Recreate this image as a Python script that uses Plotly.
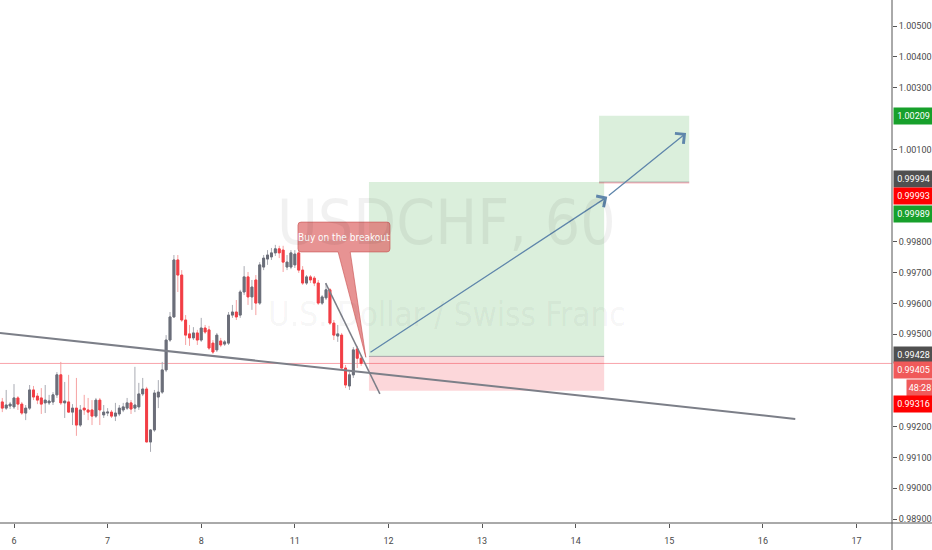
import plotly.graph_objects as go

# ---------------- data ----------------
# hourly bars, index = hours since day "6" 00:00 (weekend hours skipped)
bar_start = -3
opens = [0.99280, 0.99260, 0.99267, 0.99264, 0.99293, 0.99273, 0.99244, 0.99260, 0.99319, 0.99299,
         0.99293, 0.99277, 0.99277, 0.99280, 0.99303, 0.99368, 0.99277, 0.99280, 0.99247, 0.99260,
         0.99205, 0.99260, 0.99254, 0.99254, 0.99234, 0.99286, 0.99238, 0.99244, 0.99247, 0.99234,
         0.99241, 0.99254, 0.99260, 0.99277, 0.99260, 0.99264, 0.99306, 0.99322, 0.99150, 0.99189,
         0.99296, 0.99312, 0.99384, 0.99481, 0.99556, 0.99741, 0.99692, 0.99546, 0.99501, 0.99488,
         0.99504, 0.99481, 0.99520, 0.99514, 0.99471, 0.99449, 0.99478, 0.99468, 0.99471, 0.99562,
         0.99572, 0.99562, 0.99637, 0.99686, 0.99621, 0.99676, 0.99601, 0.99718, 0.99744, 0.99751,
         0.99764, 0.99777, 0.99773, 0.99718, 0.99718, 0.99725, 0.99764, 0.99708, 0.99666, 0.99686,
         0.99682, 0.99666, 0.99601, 0.99618, 0.99644, 0.99536, 0.99494, 0.99497, 0.99390, 0.99332,
         0.99368, 0.99452, 0.99422]
highs = [0.99293, 0.99319, 0.99280, 0.99338, 0.99299, 0.99280, 0.99270, 0.99335, 0.99332, 0.99309,
         0.99325, 0.99335, 0.99303, 0.99312, 0.99377, 0.99410, 0.99345, 0.99368, 0.99273, 0.99358,
         0.99270, 0.99303, 0.99293, 0.99286, 0.99293, 0.99293, 0.99270, 0.99260, 0.99254, 0.99277,
         0.99270, 0.99277, 0.99293, 0.99286, 0.99394, 0.99342, 0.99358, 0.99329, 0.99192, 0.99319,
         0.99351, 0.99410, 0.99497, 0.99572, 0.99757, 0.99757, 0.99708, 0.99562, 0.99530, 0.99523,
         0.99514, 0.99553, 0.99530, 0.99527, 0.99481, 0.99504, 0.99488, 0.99481, 0.99572, 0.99595,
         0.99611, 0.99644, 0.99721, 0.99702, 0.99676, 0.99692, 0.99734, 0.99757, 0.99773, 0.99780,
         0.99790, 0.99787, 0.99787, 0.99757, 0.99773, 0.99773, 0.99773, 0.99721, 0.99692, 0.99692,
         0.99689, 0.99676, 0.99627, 0.99666, 0.99650, 0.99546, 0.99530, 0.99504, 0.99400, 0.99377,
         0.99458, 0.99462, 0.99432]
lows = [0.99247, 0.99254, 0.99257, 0.99257, 0.99254, 0.99238, 0.99221, 0.99254, 0.99286, 0.99273,
        0.99241, 0.99244, 0.99270, 0.99270, 0.99293, 0.99270, 0.99228, 0.99244, 0.99205, 0.99170,
        0.99199, 0.99238, 0.99221, 0.99205, 0.99228, 0.99205, 0.99228, 0.99234, 0.99228, 0.99218,
        0.99234, 0.99247, 0.99254, 0.99241, 0.99247, 0.99254, 0.99299, 0.99150, 0.99118, 0.99183,
        0.99260, 0.99306, 0.99377, 0.99475, 0.99553, 0.99637, 0.99540, 0.99465, 0.99462, 0.99481,
        0.99465, 0.99475, 0.99501, 0.99449, 0.99436, 0.99442, 0.99458, 0.99462, 0.99465, 0.99553,
        0.99546, 0.99553, 0.99627, 0.99595, 0.99579, 0.99562, 0.99595, 0.99708, 0.99725, 0.99741,
        0.99754, 0.99747, 0.99702, 0.99708, 0.99711, 0.99715, 0.99699, 0.99660, 0.99660, 0.99666,
        0.99656, 0.99595, 0.99595, 0.99611, 0.99530, 0.99481, 0.99475, 0.99384, 0.99325, 0.99319,
        0.99358, 0.99390, 0.99397]
closes = [0.99260, 0.99270, 0.99273, 0.99293, 0.99273, 0.99244, 0.99260, 0.99319, 0.99296, 0.99286,
          0.99273, 0.99286, 0.99283, 0.99303, 0.99368, 0.99277, 0.99283, 0.99247, 0.99260, 0.99205,
          0.99254, 0.99254, 0.99247, 0.99234, 0.99286, 0.99254, 0.99247, 0.99247, 0.99234, 0.99244,
          0.99260, 0.99264, 0.99277, 0.99257, 0.99270, 0.99306, 0.99322, 0.99150, 0.99189, 0.99309,
          0.99312, 0.99384, 0.99481, 0.99556, 0.99741, 0.99692, 0.99546, 0.99497, 0.99488, 0.99504,
          0.99481, 0.99520, 0.99507, 0.99455, 0.99442, 0.99497, 0.99465, 0.99475, 0.99562, 0.99572,
          0.99556, 0.99637, 0.99686, 0.99621, 0.99653, 0.99601, 0.99725, 0.99747, 0.99757, 0.99764,
          0.99777, 0.99764, 0.99734, 0.99734, 0.99764, 0.99760, 0.99708, 0.99666, 0.99686, 0.99676,
          0.99666, 0.99601, 0.99621, 0.99644, 0.99536, 0.99497, 0.99501, 0.99390, 0.99335, 0.99368,
          0.99449, 0.99422, 0.99405]
bar_index = list(range(bar_start, bar_start + len(opens)))

day_tick_index = [0, 24, 48, 72, 96, 120, 144, 168, 192, 216]
day_tick_labels = ["6", "7", "8", "11", "12", "13", "14", "15", "16", "17"]

price_ticks = [0.989, 0.990, 0.991, 0.992, 0.995, 0.996, 0.997, 0.998,
               1.001, 1.003, 1.004, 1.005]

# drawings (time index, price)
trend_long_x = [-3.6, 200.3]
trend_long_y = [0.99504, 0.99225]
trend_short_x = [79.9, 93.8]
trend_short_y = [0.99666, 0.99306]

pos1_time = [91.0, 151.3]
pos1_entry, pos1_target, pos1_stop = 0.99428, 0.99994, 0.99316
pos2_time = [150.0, 173.1]
pos2_entry, pos2_target, pos2_stop = 0.99994, 1.00209, 0.99989

arrow_x = [91.0, 152.1, 172.3]
arrow_y = [0.99438, 0.99946, 1.00153]

callout_text = "Buy on the breakout"
callout_time = [72.8, 96.4]
callout_price = [0.99767, 0.99864]
callout_tail_time = [83.1, 86.2]
callout_tip = (90.2, 0.99425)

axis_label_texts = ["1.00209", "0.99994", "0.99993", "0.99989", "0.99428", "0.99405", "48:28", "0.99316"]
axis_label_prices = [1.00209, 0.99994, 0.99993, 0.99989, 0.99428, 0.99405, 0.99405, 0.99316]

# ---------------- styles ----------------
AXFONT = "Roboto, Liberation Sans, sans-serif"
WMFONT = "DejaVu Sans Condensed, DejaVu Sans, sans-serif"
UP_BODY, UP_WICK = "#6b6e79", "#a9abb3"
DN_BODY, DN_WICK = "#f23e45", "#f6a2a2"
GREEN_LBL, RED_LBL, GRAY_LBL, LRED_LBL = "#17a02b", "#ff0000", "#505050", "#f05a5a"
label_colors = [GREEN_LBL, GRAY_LBL, RED_LBL, GREEN_LBL, GRAY_LBL, LRED_LBL, LRED_LBL, RED_LBL]
label_shifts = [0, 3, -14, -30, 1, -7, -24.5, -13]

fig = go.Figure()

# position tool boxes
def rect(x0, x1, y0, y1, color):
    fig.add_shape(type="rect", xref="x", yref="y", x0=x0, x1=x1, y0=y0, y1=y1,
                  fillcolor=color, line_width=0, layer="below")

GREEN_FILL = "rgba(76,175,80,0.20)"
RED_FILL = "rgba(242,54,69,0.20)"
rect(pos1_time[0], pos1_time[1], pos1_entry, pos1_target, GREEN_FILL)
rect(pos1_time[0], pos1_time[1], pos1_stop, pos1_entry, RED_FILL)
fig.add_shape(type="line", xref="x", yref="y", x0=pos1_time[0], x1=pos1_time[1],
              y0=pos1_entry, y1=pos1_entry, line=dict(color="rgba(120,123,134,0.6)", width=1), layer="below")
rect(pos2_time[0], pos2_time[1], pos2_entry, pos2_target, GREEN_FILL)
rect(pos2_time[0], pos2_time[1], pos2_stop, pos2_entry, "rgba(242,54,69,0.35)")
fig.add_shape(type="line", xref="x", yref="y", x0=pos2_time[0], x1=pos2_time[1],
              y0=pos2_entry, y1=pos2_entry, line=dict(color="rgba(120,123,134,0.5)", width=1), layer="below")

# current price line
fig.add_shape(type="line", xref="paper", yref="y", x0=0, x1=1, y0=closes[-1], y1=closes[-1],
              line=dict(color="rgba(242,54,69,0.45)", width=1), layer="below")

# candles: wicks + bodies
fig.add_trace(go.Candlestick(
    x=bar_index, open=opens, high=highs, low=lows, close=closes,
    increasing=dict(line=dict(color=UP_WICK, width=1), fillcolor=UP_BODY),
    decreasing=dict(line=dict(color=DN_WICK, width=1), fillcolor=DN_BODY),
    hoverinfo="skip", showlegend=False))
body_hi = [max(o, c) for o, c in zip(opens, closes)]
body_lo = [min(o, c) for o, c in zip(opens, closes)]
fig.add_trace(go.Candlestick(
    x=bar_index, open=opens, high=body_hi, low=body_lo, close=closes,
    increasing=dict(line=dict(color=UP_BODY, width=1), fillcolor=UP_BODY),
    decreasing=dict(line=dict(color=DN_BODY, width=1), fillcolor=DN_BODY),
    hoverinfo="skip", showlegend=False))

# trend lines
fig.add_trace(go.Scatter(x=trend_long_x, y=trend_long_y, mode="lines",
                         line=dict(color="#7c7f88", width=2), hoverinfo="skip", showlegend=False))
fig.add_trace(go.Scatter(x=trend_short_x, y=trend_short_y, mode="lines",
                         line=dict(color="#7c7f88", width=1.5), hoverinfo="skip", showlegend=False))

# arrows
ARROW = "#5f86ab"
for i in range(len(arrow_x) - 1):
    fig.add_annotation(x=arrow_x[i + 1], y=arrow_y[i + 1], ax=arrow_x[i], ay=arrow_y[i],
                       xref="x", yref="y", axref="x", ayref="y", text="", showarrow=True,
                       arrowhead=4, arrowsize=2.0, arrowwidth=1.3, arrowcolor=ARROW, standoff=0)

# callout with rounded corners and tail
x0, x1 = callout_time
y0, y1 = callout_price
rx, ry = 0.8, 0.0001
tl, tr = callout_tail_time
px, py = callout_tip
path = (f"M {x0+rx},{y1} L {x1-rx},{y1} Q {x1},{y1} {x1},{y1-ry} "
        f"L {x1},{y0+ry} Q {x1},{y0} {x1-rx},{y0} L {tr},{y0} L {px},{py} L {tl},{y0} "
        f"L {x0+rx},{y0} Q {x0},{y0} {x0},{y0+ry} L {x0},{y1-ry} Q {x0},{y1} {x0+rx},{y1} Z")
fig.add_shape(type="path", xref="x", yref="y", path=path,
              fillcolor="rgba(222,105,105,0.72)", line=dict(color="rgba(200,80,80,0.6)", width=1))
fig.add_annotation(x=(x0 + x1) / 2, y=(y0 + y1) / 2, xref="x", yref="y", text=callout_text,
                   showarrow=False, font=dict(family=WMFONT, size=10, color="white"))

# watermark
fig.add_annotation(x=0.501, y=0.575, xref="paper", yref="paper", text="USDCHF, 60", showarrow=False,
                   font=dict(family=WMFONT, size=62, color="rgba(0,0,0,0.055)"))
fig.add_annotation(x=0.501, y=0.398, xref="paper", yref="paper", text="U.S. Dollar / Swiss Franc",
                   showarrow=False, font=dict(family=WMFONT, size=33, color="rgba(0,0,0,0.055)"))

# price-axis labels
for txt, pr, col, sh in zip(axis_label_texts, axis_label_prices, label_colors, label_shifts):
    is_timer = ":" in txt
    fig.add_annotation(x=1, y=pr, xref="paper", yref="y", xanchor="left",
                       xshift=14 if is_timer else 1, yshift=sh, text=txt, showarrow=False,
                       bgcolor=col, width=24 if is_timer else 37, height=14, borderpad=1,
                       font=dict(family=AXFONT, size=9, color="white"))

# axis lines spanning the whole frame
fig.add_shape(type="line", xref="paper", yref="paper", x0=0, x1=1.05, y0=0, y1=0,
              line=dict(color="#555", width=1))
fig.add_shape(type="line", xref="paper", yref="paper", x0=1, x1=1, y0=-0.06, y1=1,
              line=dict(color="#555", width=1))

fig.update_layout(
    width=932, height=550, margin=dict(l=0, r=40, t=0, b=27),
    plot_bgcolor="white", paper_bgcolor="white", showlegend=False,
    xaxis=dict(range=[-3.59, 225.1], tickvals=day_tick_index, ticktext=day_tick_labels,
               showgrid=False, zeroline=False, ticks="outside", ticklen=4, tickcolor="#555",
               ticklabelstandoff=5,
               tickfont=dict(family=AXFONT, size=9, color="#4a4a4a"), rangeslider=dict(visible=False),
               fixedrange=True),
    yaxis=dict(side="right", range=[0.98887, 1.00585], tickvals=price_ticks,
               ticktext=[f"{v:.5f}" for v in price_ticks], showgrid=False, zeroline=False,
               ticks="outside", ticklen=4, tickcolor="#555", showline=False,
               tickfont=dict(family=AXFONT, size=9, color="#4a4a4a"), fixedrange=True),
)

fig.write_html("out.html", config={"displayModeBar": False},
               post_script="document.body.style.margin='0';")
